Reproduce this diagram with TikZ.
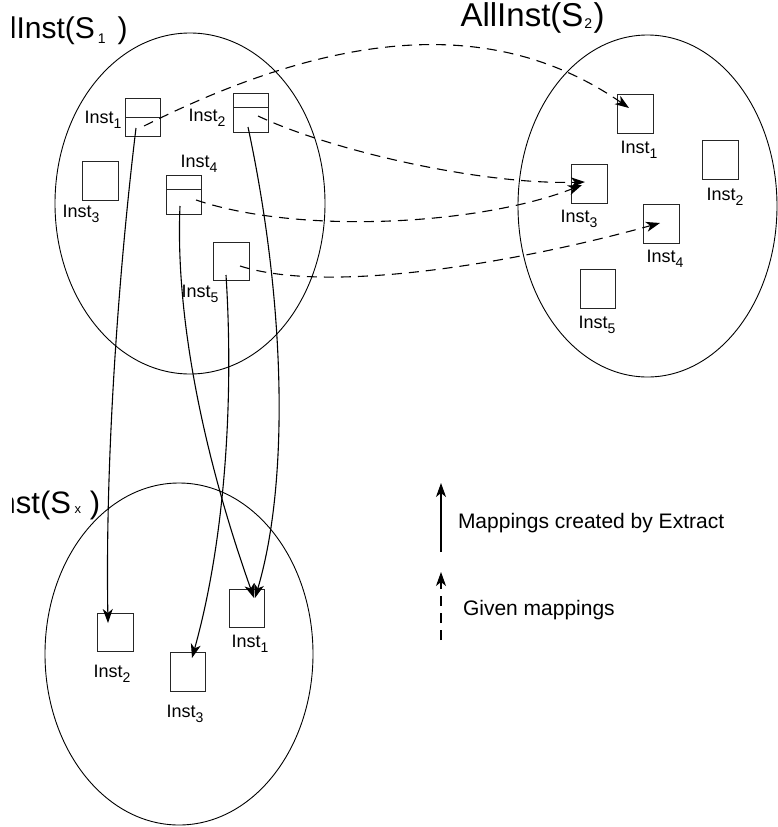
\documentclass[tikz,border=0pt]{standalone}
\usepackage{fontspec}
\setmainfont{Liberation Sans}
\usetikzlibrary{arrows.meta,calc}

% lowered small text used for the indices
\newcommand{\tsub}[3]{\raisebox{#2}{\fontsize{#1}{#1}\selectfont #3}}
\newcommand{\instlab}[1]{Inst\tsub{14}{-5pt}{#1}}

\begin{document}
\begin{tikzpicture}[x=1pt,y=-1pt,
  every node/.style={inner sep=0pt,outer sep=0pt},
  region/.style={draw,line width=0.9pt},
  instbox/.style={draw=black!85,line width=1.1pt,minimum width=35.5pt,minimum height=38.5pt},
  divider/.style={draw=black!85,line width=1.1pt},
  lab/.style={anchor=base west,font=\fontsize{18}{18}\selectfont},
  title/.style={anchor=base east},
  tip/.style={-{Stealth[length=14pt,width=10pt,inset=4pt]}},
  given/.style={line width=1.1pt,dash pattern=on 10pt off 7pt,tip},
  extract/.style={line width=1.1pt,tip},
  legendtext/.style={anchor=base west,font=\fontsize{21}{21}\selectfont}]

\useasboundingbox (0,0) rectangle (778,827);

% ---- the three instance sets ----
\draw[region] (190,203.5) ellipse [x radius=135,y radius=170.5];
\draw[region] (647.5,206) ellipse [x radius=129.5,y radius=171];
\draw[region] (179,654) ellipse [x radius=134,y radius=171];

% ---- set titles (the two on the left run past the margin) ----
\begin{scope}
  \clip (12,0) rectangle (778,827);
  \node[title,font=\fontsize{30}{30}\selectfont] (tS1) at (127.5,38)
    {AllInst(S\kern3pt\tsub{14}{-5pt}{1}\kern11.8pt)};
  \node[title,font=\fontsize{31}{31}\selectfont] (tSx) at (100.2,513)
    {AllInst(S\kern3.5pt\tsub{13}{0pt}{x}\kern8.8pt)};
\end{scope}
\node[title,font=\fontsize{33}{33}\selectfont] (tS2) at (604.5,27)
  {AllInst(S\kern1pt\tsub{14}{-1.3pt}{2}\kern1.3pt)};

% ---- instances of S1 ----
\node[instbox] (a1) at (142.8,117.5) {};
\draw[divider] (a1.west) -- (a1.east);
\node[instbox] (a2) at (251,113) {};
\draw[divider] ($(a2.north west)+(0,13.3)$) -- ($(a2.north east)+(0,13.3)$);
\node[instbox] (a3) at (100.5,181) {};
\node[instbox] (a4) at (184,195) {};
\draw[divider] ($(a4.north west)+(0,13.5)$) -- ($(a4.north east)+(0,13.5)$);
\node[instbox] (a5) at (231.5,261.5) {};

\node[lab] (la1) at (84.5,123) {\instlab{1}};
\node[lab] (la2) at (188.5,121) {\instlab{2}};
\node[lab] (la3) at (62.5,217) {\instlab{3}};
\node[lab] (la4) at (180.5,167) {\instlab{4}};
\node[lab] (la5) at (181.5,297) {\instlab{5}};

% ---- instances of S2 ----
\node[instbox] (b1) at (635.5,114) {};
\node[instbox] (b2) at (720.5,160) {};
\node[instbox] (b3) at (589.5,184) {};
\node[instbox] (b4) at (661.5,224) {};
\node[instbox] (b5) at (598,289) {};

\node[lab] (lb1) at (620.5,153) {\instlab{1}};
\node[lab] (lb2) at (706.5,200) {\instlab{2}};
\node[lab] (lb3) at (560.5,222) {\instlab{3}};
\node[lab] (lb4) at (646.5,262) {\instlab{4}};
\node[lab] (lb5) at (578.5,328) {\instlab{5}};

% ---- instances of Sx ----
\node[instbox] (c1) at (247,608.5) {};
\node[instbox] (c2) at (115.5,632.5) {};
\node[instbox] (c3) at (188,672) {};

\node[lab] (lc1) at (231.5,647) {\instlab{1}};
\node[lab] (lc2) at (93.5,677) {\instlab{2}};
\node[lab] (lc3) at (166.5,717) {\instlab{3}};

% ---- given mappings S1 -> S2 ----
\draw[given] ([shift={(1.2,8.5)}]a1.center) .. controls (344,26) and (499,18) .. ([shift={(-6.5,-6)}]b1.center);
\draw[given] ([shift={(7,3)}]a2.center) .. controls (330,150) and (480,185) .. ([shift={(-4.5,-2)}]b3.center);
\draw[given] ([shift={(12,5)}]a4.center) .. controls (300,235) and (480,225) .. ([shift={(-7.5,1)}]b3.center);
\draw[given] ([shift={(8.5,4.5)}]a5.center) .. controls (330,295) and (520,262) .. ([shift={(-1.5,-1)}]b4.center);

% ---- mappings created by Extract S1 -> Sx ----
\draw[extract] ([shift={(-6.8,10.5)}]a1.center) .. controls (120,260) and (105,450) .. ([shift={(-7.5,-9.5)}]c2.center);
\draw[extract] ([shift={(-4,11)}]a4.center) .. controls (175,320) and (205,460) .. ([shift={(7,-10.5)}]c1.center);
\draw[extract] ([shift={(-5.5,13.5)}]a5.center) .. controls (234,400) and (225,540) .. ([shift={(4,-14)}]c3.center);
\draw[extract] ([shift={(-3,14)}]a2.center) .. controls (285,300) and (290,480) .. ([shift={(8,-10.5)}]c1.center);

% ---- legend ----
\coordinate (ls0) at (441,552);
\coordinate (ls1) at (441,483);
\draw[extract] (ls0) -- (ls1);
\node[legendtext] (lt1) at (458,528) {Mappings created by Extract};
\coordinate (ld0) at (441,640);
\coordinate (ld1) at (441,572);
\draw[given] (ld0) -- (ld1);
\node[legendtext] (lt2) at (463,615) {Given mappings};

\end{tikzpicture}
\end{document}
